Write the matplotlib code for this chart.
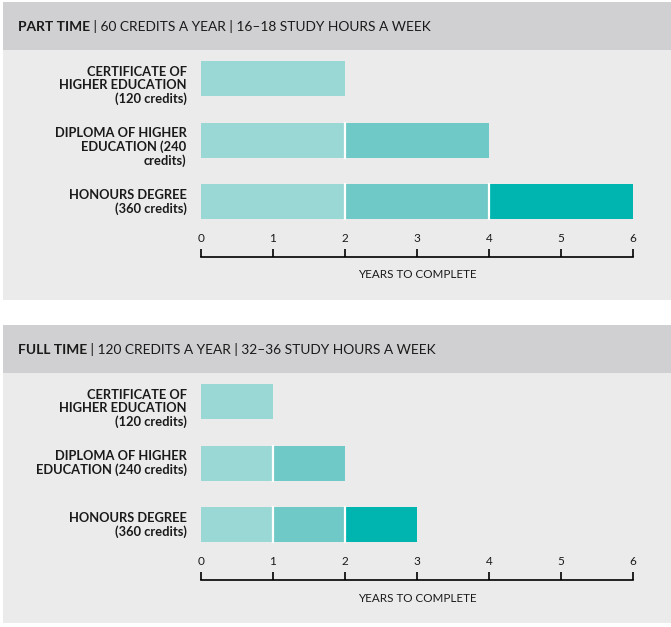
import numpy as np
import matplotlib.pyplot as plt
from matplotlib.patches import Rectangle

# Data
qualifications = [
    "CERTIFICATE OF\nHIGHER EDUCATION\n(120 credits)",
    "DIPLOMA OF HIGHER\nEDUCATION (240\ncredits)",
    "HONOURS DEGREE\n(360 credits)",
]
qualifications_ft = [
    "CERTIFICATE OF\nHIGHER EDUCATION\n(120 credits)",
    "DIPLOMA OF HIGHER\nEDUCATION (240 credits)",
    "HONOURS DEGREE\n(360 credits)",
]
part_time_years = [[2], [2, 2], [2, 2, 2]]
full_time_years = [[1], [1, 1], [1, 1, 1]]
header_bold = ["PART TIME", "FULL TIME"]
header_rest = [" | 60 CREDITS A YEAR | 16\u201318 STUDY HOURS A WEEK",
               " | 120 CREDITS A YEAR | 32\u201336 STUDY HOURS A WEEK"]
year_ticks = [0, 1, 2, 3, 4, 5, 6]
xlabel = "YEARS TO COMPLETE"

seg_colors = ["#9ad8d5", "#6fc9c6", "#00b5b0"]
header_color = "#d0d0d2"
body_color = "#ebebeb"
text_color = "#1a1a1a"

plt.rcParams["font.family"] = ["Lato", "DejaVu Sans"]

W, H = 671, 627
fig = plt.figure(figsize=(W / 100, H / 100), dpi=100)
fig.patch.set_facecolor("white")

# Background axes in pixel coordinates
bg = fig.add_axes([0, 0, 1, 1])
bg.set_xlim(0, W)
bg.set_ylim(H, 0)
bg.axis("off")
bg.set_zorder(-1)


def fy(py):
    return 1 - py / H


def fx(px):
    return px / W


def panel(top, labels, data, bold, rest):
    bg.add_patch(Rectangle((3, top), 668, 48, color=header_color, lw=0))
    bg.add_patch(Rectangle((3, top + 48), 668, 250, color=body_color, lw=0))
    t = bg.text(18, top + 25, bold, fontsize=9.95, fontweight="bold",
                color=text_color, va="center")
    bg.annotate(rest, xy=(1, 0), xycoords=t, va="bottom", ha="left",
                fontsize=9.95, color=text_color)

    # bars
    row_h = 61.5
    bar_h = 0.57
    bar_top = top + 46
    ax = fig.add_axes([fx(201), fy(bar_top + 3 * row_h), fx(432), 3 * row_h / H])
    ax.set_xlim(0, 6)
    ax.set_ylim(2.5, -0.5)
    ax.axis("off")
    for i, segs in enumerate(data):
        left = 0
        for j, w in enumerate(segs):
            ax.barh(i, w, left=left, height=bar_h, color=seg_colors[j], edgecolor="none")
            if j > 0:
                ax.plot([left, left], [i - bar_h / 2, i + bar_h / 2], color="white", lw=1.6)
            left += w
        # labels hang from the top of the bar
        ax.text(-0.2, i - bar_h / 2 + 0.072, labels[i], ha="right", va="top", fontsize=9.3,
                fontweight="bold", color=text_color, linespacing=1.12)

    # axis with ticks up and labels above
    axis_y = top + 255
    xa = fig.add_axes([fx(201), fy(axis_y), fx(432), 0.0001])
    xa.set_xlim(0, 6)
    xa.set_facecolor("none")
    for s in ["bottom", "left", "right"]:
        xa.spines[s].set_visible(False)
    xa.spines["top"].set_linewidth(1.2)
    xa.xaxis.set_ticks_position("top")
    xa.xaxis.set_label_position("bottom")
    xa.set_xticks(year_ticks)
    xa.tick_params(axis="x", direction="out", length=6, width=1.2, pad=3,
                   labelsize=8.5, labelcolor=text_color)
    xa.set_yticks([])
    xa.set_xlabel(xlabel, fontsize=8.4, color=text_color, labelpad=9)


panel(2, qualifications, part_time_years, header_bold[0], header_rest[0])
panel(325, qualifications_ft, full_time_years, header_bold[1], header_rest[1])

fig.savefig("out.png", dpi=100, facecolor="white")
